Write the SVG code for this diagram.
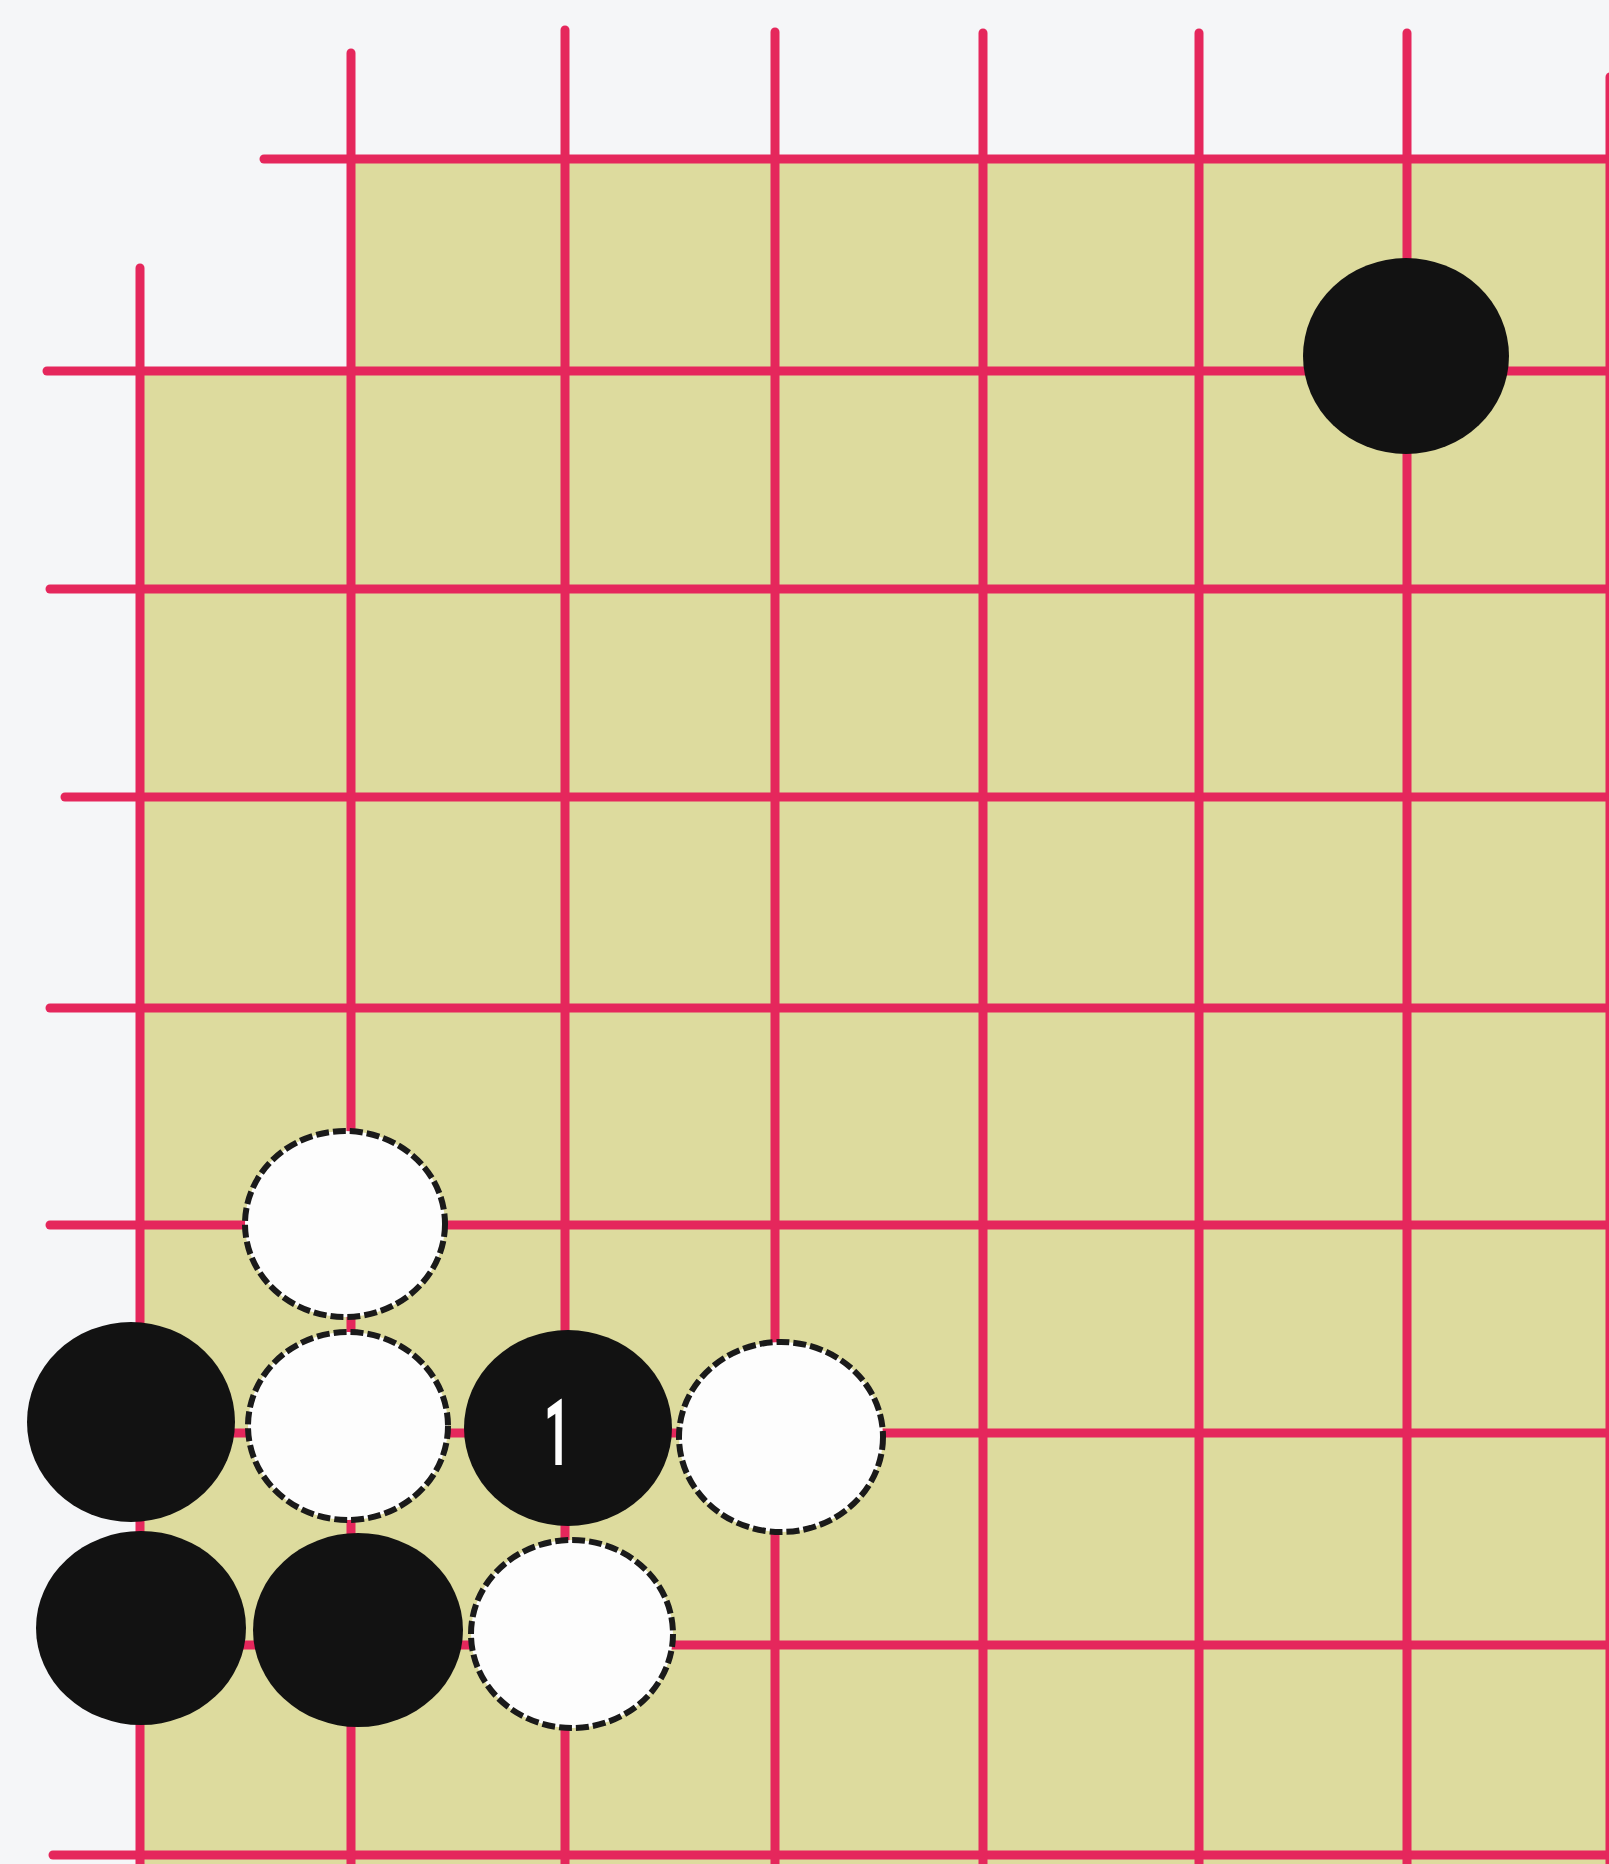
<svg xmlns="http://www.w3.org/2000/svg" width="1609" height="1864" viewBox="0 0 1609 1864">
<style>
.g line{stroke:#e5275c;stroke-width:9;stroke-linecap:round}
.b{fill:#121212}
.w{fill:#fdfdfd;stroke:#1a1a1a;stroke-width:6;stroke-dasharray:13 4}
.lbl{font-family:Roboto,"Liberation Sans",sans-serif;font-size:92px;font-weight:bold;fill:#ffffff;text-anchor:middle}
</style>
<rect x="0" y="0" width="1609" height="1864" fill="#f5f6f8"/>
<path d="M351 159 H1609 V1864 H140 V371 H351 Z" fill="#dddb9e"/>
<g id="grid" class="g">
<line x1="264" y1="159" x2="1609" y2="159"/>
<line x1="47" y1="371" x2="1609" y2="371"/>
<line x1="50" y1="589" x2="1609" y2="589"/>
<line x1="65" y1="797" x2="1609" y2="797"/>
<line x1="50" y1="1008" x2="1609" y2="1008"/>
<line x1="50" y1="1225" x2="1609" y2="1225"/>
<line x1="47" y1="1433" x2="1609" y2="1433"/>
<line x1="47" y1="1645" x2="1609" y2="1645"/>
<line x1="53" y1="1855" x2="1609" y2="1855"/>
<line x1="140" y1="268" x2="140" y2="1864"/>
<line x1="351" y1="53" x2="351" y2="1864"/>
<line x1="565" y1="30" x2="565" y2="1864"/>
<line x1="775" y1="32" x2="775" y2="1864"/>
<line x1="983" y1="33" x2="983" y2="1864"/>
<line x1="1199" y1="33" x2="1199" y2="1864"/>
<line x1="1407" y1="33" x2="1407" y2="1864"/>
<line x1="1610" y1="77" x2="1610" y2="1864"/>
</g>
<g id="stone-b-top"><ellipse class="b" cx="1406" cy="356" rx="103" ry="98"/></g>
<g id="stone-w1"><ellipse class="w" cx="345" cy="1224" rx="100" ry="93"/></g>
<g id="stone-b1"><ellipse class="b" cx="131" cy="1422" rx="104" ry="100"/></g>
<g id="stone-w2"><ellipse class="w" cx="348" cy="1426" rx="100" ry="94"/></g>
<g id="stone-b-move1"><ellipse class="b" cx="568" cy="1428" rx="104" ry="98"/><text class="lbl" x="557" y="1465" textLength="26" lengthAdjust="spacingAndGlyphs">1</text></g>
<g id="stone-w3"><ellipse class="w" cx="781" cy="1437" rx="102" ry="95"/></g>
<g id="stone-b2"><ellipse class="b" cx="141" cy="1628" rx="105" ry="97"/></g>
<g id="stone-b3"><ellipse class="b" cx="358" cy="1630" rx="105" ry="97"/></g>
<g id="stone-w4"><ellipse class="w" cx="572" cy="1634" rx="101" ry="94"/></g>
</svg>
